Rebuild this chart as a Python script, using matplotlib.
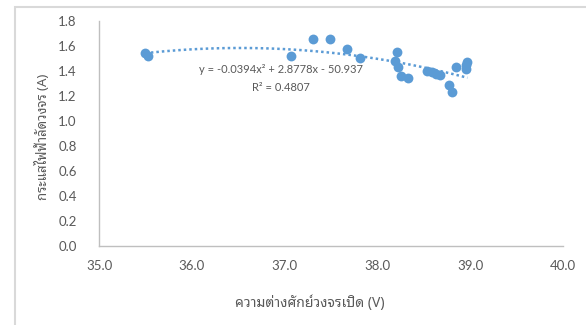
import numpy as np
import matplotlib
matplotlib.use('Agg')
from matplotlib import pyplot as plt, patches

# open-circuit voltage (V) vs short-circuit current (A)
voc = [35.50, 35.53, 37.07, 37.31, 37.49, 37.67, 37.81, 38.21, 38.19, 38.22,
       38.25, 38.33, 38.53, 38.59, 38.63, 38.67, 38.77, 38.80, 38.85, 38.97,
       38.95, 38.96]
isc = [1.544, 1.52, 1.52, 1.656, 1.656, 1.576, 1.504, 1.552, 1.48, 1.43,
       1.36, 1.344, 1.40, 1.392, 1.376, 1.368, 1.29, 1.235, 1.432, 1.47,
       1.416, 1.45]
# Excel polynomial trendline label (as printed on the chart)
trend_coef = [-0.0394, 2.8778, -50.937]
trend_r2 = 0.4807

xticks = [35.0, 36.0, 37.0, 38.0, 39.0, 40.0]
yticks = [0.0, 0.2, 0.4, 0.6, 0.8, 1.0, 1.2, 1.4, 1.6, 1.8]

thai = ['Noto Sans Thai Looped', 'Lato', 'DejaVu Sans']
num = ['Lato', 'DejaVu Sans']
grey = '#595959'
blue = '#5b9bd5'

fig = plt.figure(figsize=(5.86, 3.25), dpi=100)
fig.patches.append(patches.Rectangle((15 / 586, -0.1), 1.2, 1.1 - 7 / 325,
                                     transform=fig.transFigure, fill=False,
                                     edgecolor='#d9d9d9', linewidth=1.5))
ax = fig.add_axes([99 / 586, 1 - 246 / 325, 464 / 586, 225 / 325])

ax.scatter(voc, isc, s=50, color=blue, zorder=3, linewidths=0)
# 2nd order trendline fitted to the points
fit = np.polyfit(voc, isc, 2)
xs = np.linspace(min(voc), max(voc), 100)
ax.plot(xs, np.polyval(fit, xs), color=blue, linestyle=(0, (1, 1.2)),
        linewidth=1.8, zorder=2)

eq = 'y = {:.4f}x² + {:.4f}x - {:.3f}'.format(trend_coef[0], trend_coef[1], -trend_coef[2])
ax.text(36.96, 1.41, eq, ha='center', va='center', fontsize=8, color=grey, family=num)
ax.text(36.96, 1.27, 'R² = {:.4f}'.format(trend_r2), ha='center', va='center',
        fontsize=8, color=grey, family=num)

ax.set_xlim(35.0, 40.0)
ax.set_ylim(0.0, 1.8)
ax.set_xticks(xticks)
ax.set_yticks(yticks)
ax.set_xticklabels(['{:.1f}'.format(x) for x in xticks], family=num)
ax.set_yticklabels(['{:.1f}'.format(y) for y in yticks], family=num)
ax.tick_params(length=0, labelsize=9.5, labelcolor=grey, pad=16)
ax.tick_params(axis='x', pad=10)
for side in ['top', 'right']:
    ax.spines[side].set_visible(False)
for side in ['left', 'bottom']:
    ax.spines[side].set_color('#bfbfbf')
    ax.spines[side].set_linewidth(1)

ax.set_xlabel('ความต่างศักย์วงจรเปิด (V)', family=thai, fontsize=10, color=grey, va='center')
ax.xaxis.set_label_coords(0.455, -0.253)
ax.set_ylabel('กระแสไฟฟ้าลัดวงจร (A)', family=thai, fontsize=9.5, color=grey, va='center')
ax.yaxis.set_label_coords(-0.121, 0.484)

fig.savefig('out.png', dpi=100)
